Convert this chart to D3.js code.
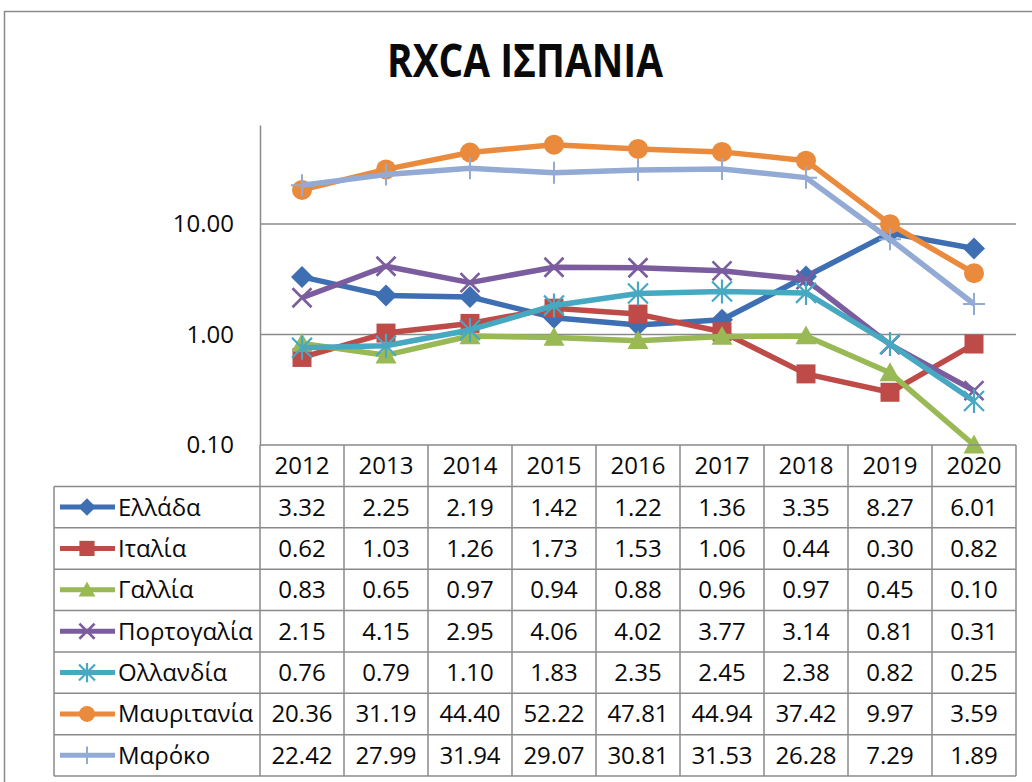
<!DOCTYPE html>
<html>
<head>
<meta charset="utf-8">
<script src="https://cdn.jsdelivr.net/npm/d3@7"></script>
<style>
  body { margin: 0; background: #fff; }
  text { font-family: "Open Sans", "Noto Sans", sans-serif; fill: #0a0a0a; }
</style>
</head>
<body>
<svg id="chart" width="1032" height="782"></svg>
<script>
const years = ["2012", "2013", "2014", "2015", "2016", "2017", "2018", "2019", "2020"]
const names = ["Ελλάδα", "Ιταλία", "Γαλλία", "Πορτογαλία", "Ολλανδία", "Μαυριτανία", "Μαρόκο"]
const greece = [3.32, 2.25, 2.19, 1.42, 1.22, 1.36, 3.35, 8.27, 6.01]
const italy = [0.62, 1.03, 1.26, 1.73, 1.53, 1.06, 0.44, 0.30, 0.82]
const france = [0.83, 0.65, 0.97, 0.94, 0.88, 0.96, 0.97, 0.45, 0.10]
const portugal = [2.15, 4.15, 2.95, 4.06, 4.02, 3.77, 3.14, 0.81, 0.31]
const netherlands = [0.76, 0.79, 1.10, 1.83, 2.35, 2.45, 2.38, 0.82, 0.25]
const mauritania = [20.36, 31.19, 44.40, 52.22, 47.81, 44.94, 37.42, 9.97, 3.59]
const morocco = [22.42, 27.99, 31.94, 29.07, 30.81, 31.53, 26.28, 7.29, 1.89]
const yTicks = [0.1, 1, 10]

const colors = ["#3d6fb2", "#be4b48", "#98b954", "#7b5c9f", "#47a8c2", "#ea8a3c", "#92aad4"]
const markers = ["diamond", "square", "triangle", "times", "asterisk", "circle", "plus"]

const series = names.map((name, i) => ({
  name: name,
  values: [greece, italy, france, portugal, netherlands, mauritania, morocco][i],
  color: colors[i],
  marker: markers[i]
}))

const svg = d3.select("#chart")
const gridColor = "#8a8a8a"
const fontSize = 24

// outer frame (runs off the right / bottom edge like the screenshot)
svg.append("rect")
  .attr("x", 4.5).attr("y", 11.5)
  .attr("width", 1100).attr("height", 900)
  .attr("fill", "none").attr("stroke", gridColor).attr("stroke-width", 1.5)

svg.append("text")
  .attr("x", 525).attr("y", 77)
  .attr("text-anchor", "middle")
  .attr("font-size", 47).attr("font-weight", "bold")
  .attr("textLength", 276).attr("lengthAdjust", "spacingAndGlyphs")
  .text("RXCA ΙΣΠΑΝΙΑ")

let x = d3.scaleBand().domain(years).range([260, 1016])
let y = d3.scaleLog().domain([0.1, 78.7]).range([445, 125])

// gridlines
svg.append("g")
  .selectAll("line")
  .data(yTicks.slice(1))
  .join("line")
  .attr("x1", 260).attr("x2", 1016)
  .attr("y1", d => y(d)).attr("y2", d => y(d))
  .attr("stroke", gridColor).attr("stroke-width", 1.5)

let yAxis = d3.axisLeft(y)
  .tickValues(yTicks)
  .tickFormat(d3.format(".2f"))
  .tickSize(0)
  .tickPadding(26)

let axisG = svg.append("g")
  .attr("transform", "translate(260,0)")
  .call(yAxis)
axisG.select(".domain").attr("stroke", gridColor).attr("stroke-width", 1.5)
axisG.selectAll("text")
  .attr("font-size", fontSize)
  .attr("font-family", "Open Sans, sans-serif")
  .attr("fill", "#0a0a0a")

// marker shapes
function markerPath(type, s) {
  let p = d3.path()
  if (type === "diamond") {
    let r = 11 * s
    p.moveTo(0, -r); p.lineTo(r, 0); p.lineTo(0, r); p.lineTo(-r, 0); p.closePath()
  } else if (type === "square") {
    let r = 9.5 * s
    p.rect(-r, -r, 2 * r, 2 * r)
  } else if (type === "triangle") {
    let r = 10.5 * s
    p.moveTo(0, -r); p.lineTo(r, r * 0.8); p.lineTo(-r, r * 0.8); p.closePath()
  } else if (type === "circle") {
    p.arc(0, 0, 10 * s, 0, 2 * Math.PI)
  } else if (type === "times") {
    let r = 9.5 * s
    p.moveTo(-r, -r); p.lineTo(r, r); p.moveTo(r, -r); p.lineTo(-r, r)
  } else if (type === "asterisk") {
    let r = 10 * s
    p.moveTo(-r, -r); p.lineTo(r, r); p.moveTo(r, -r); p.lineTo(-r, r)
    p.moveTo(0, -r * 1.2); p.lineTo(0, r * 1.2)
  } else if (type === "plus") {
    let r = 11 * s
    p.moveTo(-r, 0); p.lineTo(r, 0); p.moveTo(0, -r); p.lineTo(0, r)
  }
  return p.toString()
}
const stroked = { times: 2.6, asterisk: 2.2, plus: 2 }

function drawMarker(g, type, color, s) {
  let m = g.append("path").attr("d", markerPath(type, s))
  if (stroked[type]) {
    m.attr("fill", "none").attr("stroke", color).attr("stroke-width", stroked[type])
  } else {
    m.attr("fill", color)
  }
  return m
}

let line = d3.line()
  .x((d, i) => x(years[i]) + x.bandwidth() / 2)
  .y(d => y(d))

let seriesG = svg.append("g").selectAll("g.series")
  .data(series)
  .join("g")
  .attr("class", "series")

seriesG.append("path")
  .attr("d", d => line(d.values))
  .attr("fill", "none")
  .attr("stroke", d => d.color)
  .attr("stroke-width", 5.5)
  .attr("stroke-linejoin", "round")

seriesG.each(function (d) {
  let g = d3.select(this)
  d.values.forEach((v, i) => {
    let mg = g.append("g")
      .attr("transform", "translate(" + (x(years[i]) + x.bandwidth() / 2) + "," + y(v) + ")")
    drawMarker(mg, d.marker, d.color, 1)
  })
})

// data table
let rows = d3.scaleBand().domain(["head"].concat(names)).range([445, 776])
let table = svg.append("g")

// horizontal borders
let hLines = [{ y: rows("head"), x1: 260 }]
names.forEach(n => hLines.push({ y: rows(n), x1: 54 }))
hLines.push({ y: rows.range()[1], x1: 54 })
table.selectAll("line.h")
  .data(hLines)
  .join("line")
  .attr("class", "h")
  .attr("x1", d => d.x1).attr("x2", 1016)
  .attr("y1", d => d.y).attr("y2", d => d.y)
  .attr("stroke", gridColor).attr("stroke-width", 1.5)

// vertical borders
let vLines = [{ x: 54, y1: rows(names[0]) }]
years.forEach(yr => vLines.push({ x: x(yr), y1: rows("head") }))
vLines.push({ x: x.range()[1], y1: rows("head") })
table.selectAll("line.v")
  .data(vLines)
  .join("line")
  .attr("class", "v")
  .attr("x1", d => d.x).attr("x2", d => d.x)
  .attr("y1", d => d.y1).attr("y2", rows.range()[1])
  .attr("stroke", gridColor).attr("stroke-width", 1.5)

let mid = k => rows(k) + rows.bandwidth() / 2

table.selectAll("text.year")
  .data(years)
  .join("text")
  .attr("class", "year")
  .attr("x", d => x(d) + x.bandwidth() / 2)
  .attr("y", mid("head") + 8.5)
  .attr("text-anchor", "middle")
  .attr("font-size", fontSize)
  .text(d => d)

series.forEach(s => {
  let cy = mid(s.name)
  table.append("line")
    .attr("x1", 60).attr("x2", 115)
    .attr("y1", cy).attr("y2", cy)
    .attr("stroke", s.color).attr("stroke-width", 5)
  let mg = table.append("g").attr("transform", "translate(87," + cy + ")")
  drawMarker(mg, s.marker, s.color, 0.8)
  table.append("text")
    .attr("x", 118).attr("y", cy + 8.5)
    .attr("font-size", fontSize)
    .text(s.name)
  table.selectAll(null)
    .data(s.values)
    .join("text")
    .attr("x", (d, i) => x(years[i]) + x.bandwidth() / 2)
    .attr("y", cy + 8.5)
    .attr("text-anchor", "middle")
    .attr("font-size", fontSize)
    .text(d => d3.format(".2f")(d))
})
</script>
</body>
</html>
